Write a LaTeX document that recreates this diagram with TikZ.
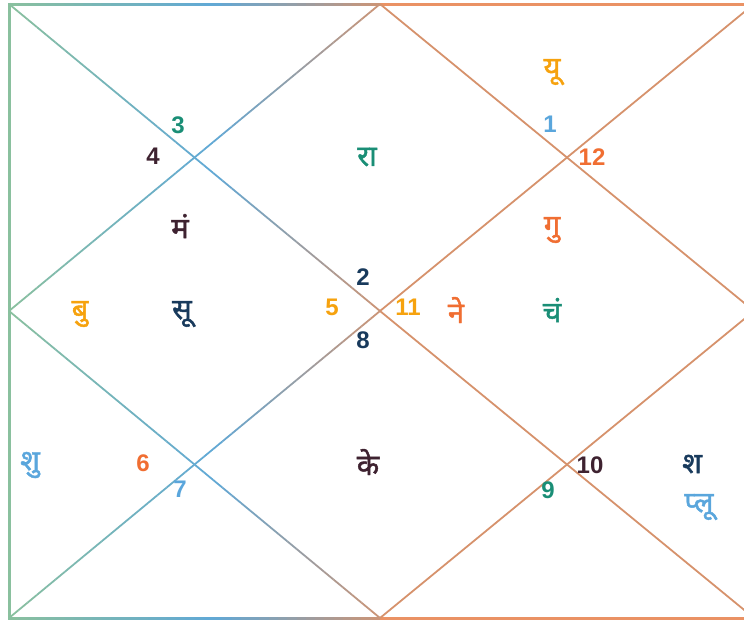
\documentclass[tikz,border=0pt]{standalone}
\usepackage{fontspec}
\setmainfont{Liberation Sans}
\newfontfamily\deva[Script=Devanagari, FakeBold=1.6]{Noto Sans}
\definecolor{lgreen}{RGB}{138,192,158}
\definecolor{lblue}{RGB}{96,168,214}
\definecolor{ltan}{RGB}{204,148,118}
\definecolor{rline}{RGB}{214,146,108}
\definecolor{rborder}{RGB}{234,146,100}
\definecolor{cteal}{RGB}{26,142,118}
\definecolor{cmaroon}{RGB}{62,34,48}
\definecolor{csky}{RGB}{90,166,220}
\definecolor{cred}{RGB}{240,110,50}
\definecolor{cgold}{RGB}{246,162,14}
\definecolor{cnavy}{RGB}{24,58,92}
\tikzset{
  num/.style={font=\fontsize{24}{24}\selectfont\bfseries, inner sep=0pt},
  grah/.style={font=\deva\fontsize{29}{29}\selectfont, inner sep=0pt},
}

\begin{document}
\begin{tikzpicture}[x=1pt, y=-1pt]
\useasboundingbox (0,0) rectangle (744,625);
\clip (0,0) rectangle (744,625);
% right half
\draw[rborder, line width=3] (380,4) -- (760,4);
\draw[rborder, line width=3] (380,618) -- (760,618);
\draw[rline, line width=1.8] (380,311) -- (754,4);
\draw[rline, line width=1.8] (380,311) -- (754,618);
\draw[rline, line width=1.8] (380,4) -- (754,311) -- (380,618);
% left half, colour runs with x
\draw[lgreen, line width=3] (9,2.5) -- (9,619.5);
\foreach \ax/\ay/\bx/\by/\lw in {9/4/380/4/3, 9/618/380/618/3, 9/4/380/311/1.8,
    9/618/380/311/1.8, 9/311/380/4/1.8, 9/311/380/618/1.8} {
  \foreach \i in {0,...,39} {
    \pgfmathsetmacro\xa{\ax+(\bx-\ax)*\i/40}
    \pgfmathsetmacro\ya{\ay+(\by-\ay)*\i/40}
    \pgfmathsetmacro\xb{\ax+(\bx-\ax)*(\i+1)/40}
    \pgfmathsetmacro\yb{\ay+(\by-\ay)*(\i+1)/40}
    \pgfmathsetmacro\tt{((\xa+\xb)/2-9)/371}
    \pgfmathsetmacro\ma{min(\tt/0.55,1)*100}
    \pgfmathsetmacro\mb{max((\tt-0.55)/0.45,0)*100}
    \colorlet{mixa}{lblue!\ma!lgreen}
    \colorlet{segc}{ltan!\mb!mixa}
    \draw[segc, line width=\lw] (\xa,\ya) -- (\xb,\yb);
  }
}
% house numbers
\node[num, text=cteal]   (h3)  at (178,125) {3};
\node[num, text=cmaroon] (h4)  at (153,156) {4};
\node[num, text=csky]    (h1)  at (550,124) {1};
\node[num, text=cred]    (h12) at (592,157) {12};
\node[num, text=cnavy]   (h2)  at (363,277) {2};
\node[num, text=cgold]   (h5)  at (332,307) {5};
\node[num, text=cgold]   (h11) at (408,307) {11};
\node[num, text=cnavy]   (h8)  at (363,340) {8};
\node[num, text=cred]    (h6)  at (143,463) {6};
\node[num, text=csky]    (h7)  at (180,489) {7};
\node[num, text=cmaroon] (h10) at (590,465) {10};
\node[num, text=cteal]   (h9)  at (548,490) {9};
% planets
\node[grah, text=cteal]   (ra)  at (367,157) {रा};
\node[grah, text=cgold]   (yu)  at (552,72)  {यू};
\node[grah, text=cmaroon] (man) at (180,226) {मं};
\node[grah, text=cred]    (gu)  at (552,230) {गु};
\node[grah, text=cgold]   (bu)  at (80,314)  {बु};
\node[grah, text=cnavy]   (su)  at (182,314) {सू};
\node[grah, text=cred]    (ne)  at (456,310) {ने};
\node[grah, text=cteal]   (chan) at (552,310) {चं};
\node[grah, text=csky]    (shu) at (30,465)  {शु};
\node[grah, text=cmaroon] (ke)  at (368,462) {के};
\node[grah, text=cnavy]   (sha) at (692,464) {श};
\node[grah, text=csky]    (plu) at (699,507) {प्लू};
\end{tikzpicture}
\end{document}
